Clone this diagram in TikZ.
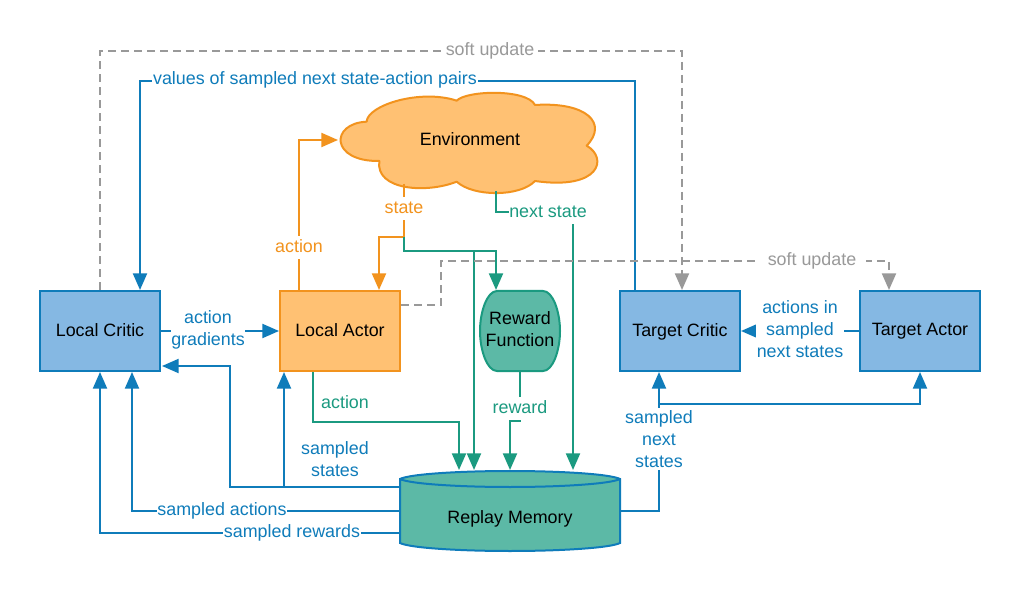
\documentclass[tikz,border=0pt]{standalone}
\usepackage{fontspec}
\setmainfont{Liberation Sans}
\usetikzlibrary{arrows.meta,calc}
\definecolor{cblue}{HTML}{0F7CBA}
\definecolor{cbluefill}{HTML}{85B8E3}
\definecolor{corange}{HTML}{F2931E}
\definecolor{corangefill}{HTML}{FFC173}
\definecolor{cgreen}{HTML}{1B9A80}
\definecolor{cgreenfill}{HTML}{5CB9A6}
\definecolor{cgrey}{HTML}{999999}
\tikzset{
  every node/.style={font=\fontsize{13.4}{16.5}\selectfont,align=center,inner sep=0pt,outer sep=0pt},
  box/.style={draw=cblue,fill=cbluefill,line width=1.5pt,minimum width=90pt,minimum height=60pt,outer sep=.75pt,text depth=2pt},
  conn/.style={line width=1.6pt,-{Triangle[length=12.5pt,width=10.5pt]}},
  plain/.style={line width=1.6pt},
  softline/.style={conn,cgrey,dash pattern=on 6pt off 3.75pt},
  lab/.style={fill=white,inner xsep=.5pt,inner ysep=2pt,text height=10pt,text depth=3pt},
  mlab/.style={fill=white,inner xsep=.5pt,inner ysep=2pt},
}
\begin{document}
\begin{tikzpicture}[x=.75pt,y=-.75pt]
  \path[use as bounding box,fill=white] (0,0) rectangle (1020,591);
  \coordinate (envw) at (338,140);
  \coordinate (envs) at (404,184);
  \coordinate (envn) at (496,191);
  \coordinate (stsplit) at (404,237);
  \node [box] (critic) at (100,331) {Local Critic};
  \node [box,draw=corange,fill=corangefill] (actor) at (340,331) {Local Actor};
  \foreach \n/\x/\t in {tcritic/680/Target Critic,tactor/920/Target Actor} {
    \node [box] (\n) at (\x,331) {\t};
  }
  \begin{scope}[shift={(330,80)},x=.25pt,y=-.25pt]
    \draw [corange,fill=corangefill,line width=1.5pt,line join=round]
      (110,125) .. controls (112,76) and (270,26) .. (380,62)
      .. controls (410,31) and (590,26) .. (615,75)
      .. controls (770,65) and (835,130) .. (770,197)
      .. controls (835,235) and (810,331) .. (615,303)
      .. controls (570,351) and (430,351) .. (380,305)
      .. controls (290,341) and (135,331) .. (148,243)
      .. controls (0,245) and (0,130) .. (110,125) -- cycle;
  \end{scope}
  \node (env) at (470,139) {Environment};
  \draw [cgreen,fill=cgreenfill,line width=1.5pt]
    (497,291) -- (543,291) .. controls (553,291) and (560,312) .. (560,331)
    .. controls (560,350) and (553,371) .. (543,371) -- (497,371)
    .. controls (487,371) and (480,350) .. (480,331)
    .. controls (480,312) and (487,291) .. (497,291) -- cycle;
  \node [minimum width=61.5pt,minimum height=61.5pt,text depth=3pt] (reward) at (520,331) {Reward\\Function};
  \draw [cblue,fill=cgreenfill,line width=1.5pt]
    (400,479) -- (400,543) .. controls (410,548) and (460,551) .. (510,551)
    .. controls (560,551) and (610,548) .. (620,543) -- (620,479)
    .. controls (610,474) and (560,471) .. (510,471)
    .. controls (460,471) and (410,474) .. (400,479) -- cycle
    (400,479) .. controls (410,484) and (460,487) .. (510,487)
    .. controls (560,487) and (610,484) .. (620,479);
  \node [minimum width=165pt,minimum height=60pt] (memory) at (510,519) {Replay Memory};

  \draw [softline] (critic.north) |- (682,51) -- ($(tcritic.north)+(2,0)$);
  \draw [conn,cblue] ($(tcritic.north)+(-45,0)$) |- (140,81) -- ($(critic.north)+(40,0)$);
  \draw [conn,corange] ($(actor.north)+(-41,0)$) |- (envw);
  \draw [plain,corange] (envs) -- (stsplit);
  \draw [conn,corange] (stsplit) -| ($(actor.north)+(39,0)$);
  \draw [conn,cgreen] (stsplit) |- (496,251) -- (reward.north -| 496,0);
  \draw [conn,cgreen] (474,251) -- ($(memory.north)+(-36,-9)$);
  \draw [conn,cgreen] (envn) |- (573,212) -- ($(memory.north)+(63,-9)$);
  \draw [softline] ($(actor.east)+(0,-26)$) -| (441,261) -| ($(tactor.north)+(-31,0)$);
  \draw [conn,cblue] (critic.east) -- (actor.west);
  \draw [conn,cgreen] ($(actor.south)+(-27,0)$) |- (459,422) -- ($(memory.north)+(-51,-9)$);
  \draw [conn,cgreen] (reward.south) |- (510,421) -- ($(memory.north)+(0,-9)$);
  \draw [conn,cblue] ($(memory.east)+(0,-8)$) -| ($(tcritic.south)+(-21,0)$);
  \draw [conn,cblue] (659,404) -| (tactor.south);
  \draw [conn,cblue] (tactor.west) -- (tcritic.east);
  \draw [conn,cblue] ($(memory.west)+(0,-32)$) -| (230,366) -- ($(critic.east)+(1,35)$);
  \draw [conn,cblue] (284,487) -- ($(actor.south)+(-56,0)$);
  \draw [conn,cblue] ($(memory.west)+(0,-8)$) -| ($(critic.south)+(32,0)$);
  \draw [conn,cblue] ($(memory.west)+(0,14)$) -| (critic.south);

  \node [lab,text=cgrey,inner xsep=3pt] (softa) at (490,50.5) {soft update};
  \node [lab,text=cgrey,inner xsep=7pt] (softb) at (812,260.5) {soft update};
  \node [lab,text=cblue] (values) at (315,80) {values of sampled next state-action pairs};
  \node [lab,text=corange] (actlab) at (299,247.5) {action};
  \node [lab,text=corange] (stlab) at (404,208.5) {state};
  \node [lab,text=cgreen] (nextlab) at (548,212.5) {next state};
  \node [mlab,text=cblue] (gradlab) at (208,330) {action\\gradients};
  \node [text=cgreen] (act2lab) at (345,402) {action};
  \node [lab,text=cgreen] (rewlab) at (520,408.7) {reward};
  \node [mlab,text=cblue] (nslab) at (659,439) {sampled\\next\\states};
  \node [mlab,text=cblue] (tactlab) at (800,329) {actions in\\sampled\\next states};
  \node [text=cblue] (sslab) at (335,459) {sampled\\states};
  \node [lab,text=cblue] (salab) at (222,510.5) {sampled actions};
  \node [lab,text=cblue] (srlab) at (292,532.5) {sampled rewards};
\end{tikzpicture}
\end{document}
